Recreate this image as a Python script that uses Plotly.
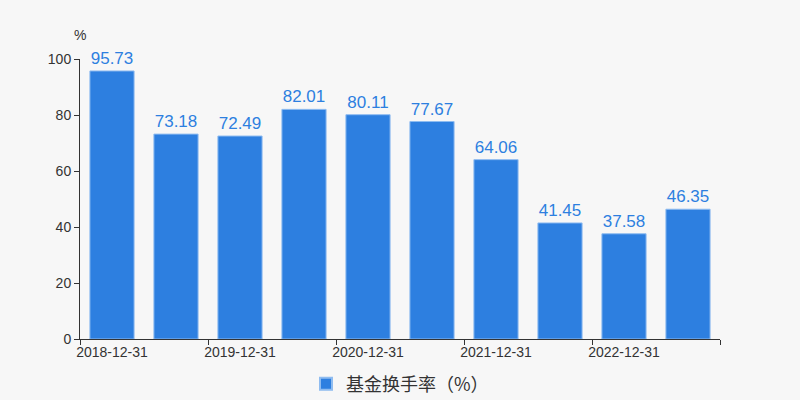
import plotly.graph_objects as go

# 报告期（半年度）
dates = ["2018-12-31", "2019-06-30", "2019-12-31", "2020-06-30", "2020-12-31",
         "2021-06-30", "2021-12-31", "2022-06-30", "2022-12-31", "2023-06-30"]
turnover = [95.73, 73.18, 72.49, 82.01, 80.11, 77.67, 64.06, 41.45, 37.58, 46.35]
y_ticks = [0, 20, 40, 60, 80, 100]

BLUE = "#2d7fe0"
GREY = "#333333"
FONT = "Liberation Sans, Arial, Noto Sans CJK SC, sans-serif"

pos = list(range(len(dates)))

fig = go.Figure()
fig.add_trace(go.Bar(
    x=pos,
    y=turnover,
    name="基金换手率（%）",
    marker=dict(color=BLUE, line=dict(color="#8fbcf0", width=1)),
    width=0.69,
    text=[f"{v:.2f}" for v in turnover],
    textposition="outside",
    textfont=dict(color=BLUE, size=17, family=FONT),
    cliponaxis=False,
    showlegend=True,
))

fig.update_layout(
    width=800, height=400,
    paper_bgcolor="#f7f7f7",
    plot_bgcolor="#f7f7f7",
    margin=dict(l=80, r=80, t=59, b=61, autoexpand=False),
    font=dict(family=FONT, color=GREY, size=12),
    showlegend=True,
    legend=dict(
        orientation="h", x=0.5, xanchor="center",
        yref="container", y=0.04, yanchor="middle",
        font=dict(size=18, color=GREY, family="Noto Sans CJK SC, sans-serif"),
        itemsizing="constant",
    ),
)

fig.update_xaxes(
    range=[-0.5, len(dates) - 0.5],
    tickvals=pos[::2],
    ticktext=dates[::2],
    ticks="",
    showline=True, linecolor=GREY, linewidth=1,
    showgrid=False, zeroline=False, automargin=False,
    tickfont=dict(size=14, color=GREY),
    minor=dict(tick0=-0.5, dtick=2, ticks="outside", ticklen=5,
               tickcolor=GREY, showgrid=False),
)
fig.update_yaxes(
    range=[0, 100],
    tickvals=y_ticks,
    ticks="outside", ticklen=5, tickcolor=GREY,
    showline=True, linecolor=GREY, linewidth=1,
    showgrid=False, zeroline=False, automargin=False,
    tickfont=dict(size=14, color=GREY),
)

fig.add_annotation(
    text="%", xref="paper", yref="paper", x=0, y=1, yshift=14,
    showarrow=False, font=dict(size=14, color=GREY), xanchor="center", yanchor="bottom",
)

fig.write_html("out.html", config={"displayModeBar": False},
               post_script="document.body.style.margin='0';")
